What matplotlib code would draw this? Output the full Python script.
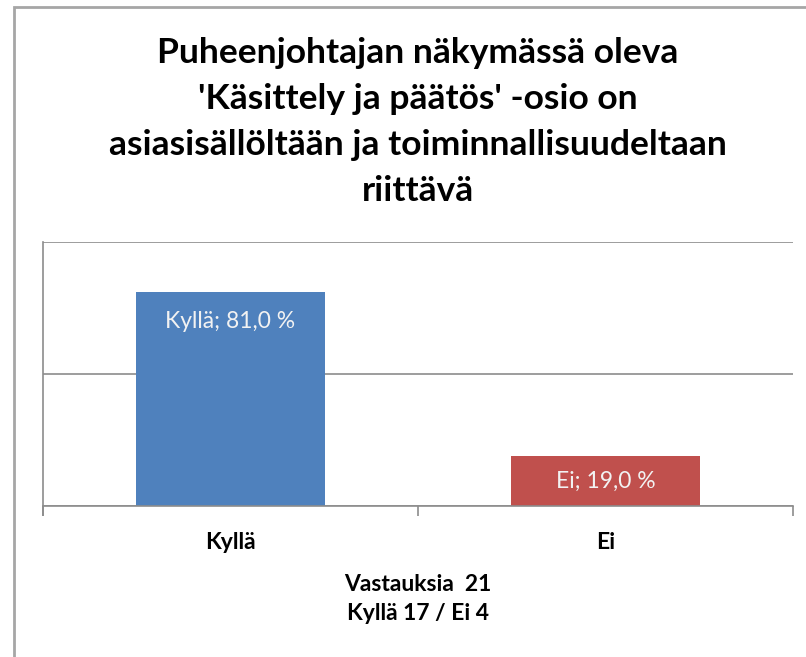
"""Recreation of an Excel-style yes/no bar chart (Finnish survey question)."""
import matplotlib
matplotlib.use("Agg")
import matplotlib.pyplot as plt  # noqa: E402
from matplotlib.patches import Rectangle  # noqa: E402

categories = ["Kyllä", "Ei"]
shares = [0.81, 0.19]
bar_labels = ["Kyllä; 81,0 %", "Ei; 19,0 %"]
title = ("Puheenjohtajan näkymässä oleva\n'Käsittely ja päätös' -osio on\n"
         "asiasisällöltään ja toiminnallisuudeltaan\nriittävä")
xlabel = "Vastauksia  21\nKyllä 17 / Ei 4"

COL = {"blue": "#4F81BD", "red": "#C0504D", "grid": "#8C8C8C", "frame": "#A6A6A6"}
plt.rcParams.update({"font.family": ["Lato", "DejaVu Sans"]})

W, H = 806, 657
fig = plt.figure(figsize=(W / 100, H / 100), dpi=100)

# outer chart frame (cropped at right and bottom in the original)
fig.patches.append(Rectangle((14 / W, -0.1), 1.2, 1 - 7 / H + 0.1, transform=fig.transFigure,
                             fill=False, edgecolor=COL["frame"], linewidth=2))

ax = fig.add_axes([43 / W, (H - 506) / H, 750 / W, 264 / H])
x = range(len(categories))
bars = ax.bar(x, shares, width=0.505, color=[COL["blue"], COL["red"]], zorder=2)
ax.set_xlim(-0.5, 1.5)
ax.set_ylim(0, 1)
ax.set_yticks([0, 0.5, 1])
ax.set_yticklabels([])
ax.tick_params(axis="y", length=0)
ax.grid(axis="y", color=COL["grid"], linewidth=1.2, zorder=0)
for s in ["top", "right"]:
    ax.spines[s].set_visible(False)
for s in ["left", "bottom"]:
    ax.spines[s].set_color(COL["grid"])
    ax.spines[s].set_linewidth(1.2)
ax.spines["left"].set_bounds(-0.035, 1)

ax.set_xticks([-0.5, 0.5, 1.5])
ax.set_xticklabels([])
ax.tick_params(axis="x", length=7, color=COL["grid"], width=1.2)
for i, c in enumerate(categories):
    ax.text(i, -0.14, c, ha="center", va="center", fontsize=16.5, fontweight="bold",
            transform=ax.get_xaxis_transform())

for b, lab in zip(bars, bar_labels):
    top = b.get_height()
    y = top - 0.11 if top > 0.5 else top / 2
    ax.text(b.get_x() + b.get_width() / 2, y, lab, ha="center", va="center",
            fontsize=16.5, color="#F2F2F2")

fig.text(418 / W, 1 - 599 / H, xlabel, ha="center", va="center", fontsize=16.5,
         fontweight="bold", linespacing=1.5)
fig.text(418 / W, 1 - 122 / H, title, ha="center", va="center", fontsize=25.5,
         fontweight="bold", linespacing=1.55)

fig.savefig("out.png", dpi=100)
